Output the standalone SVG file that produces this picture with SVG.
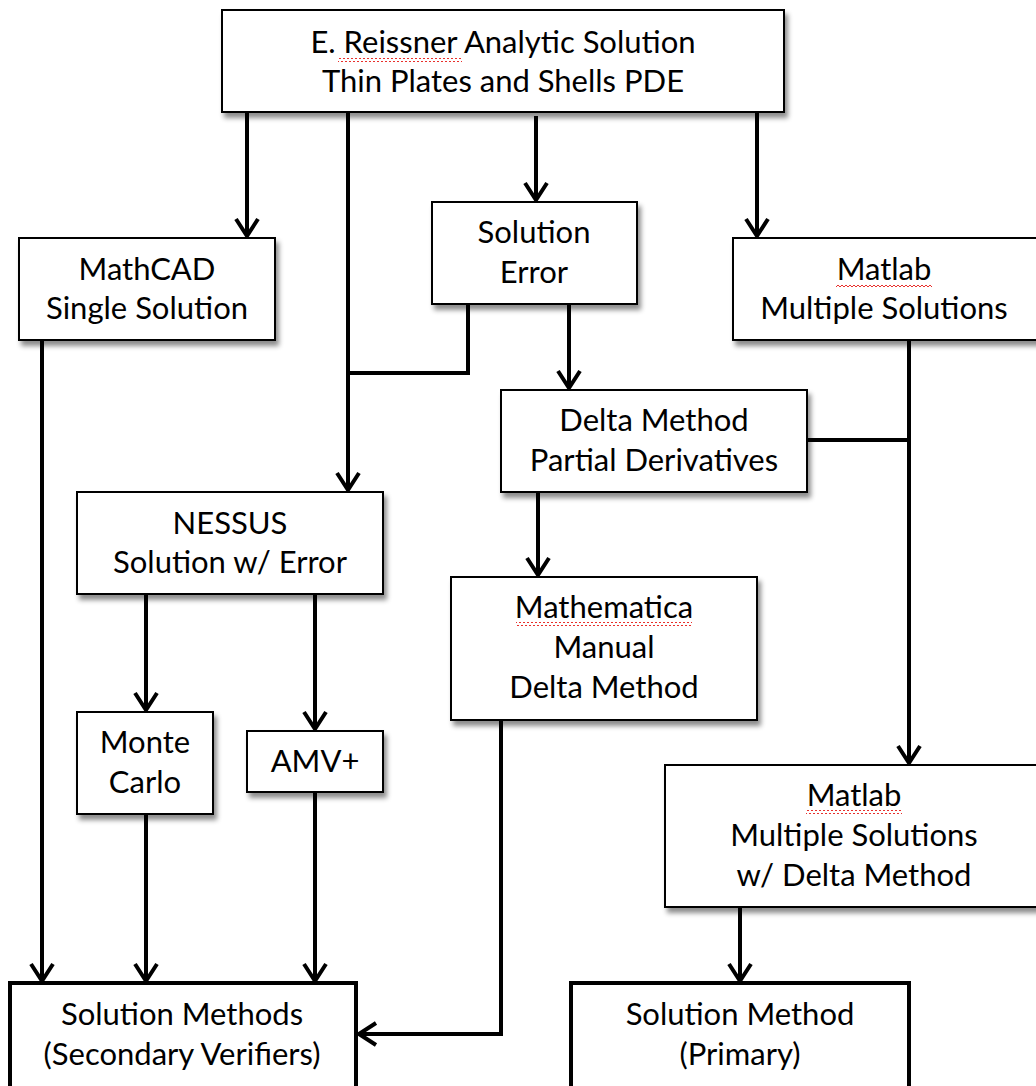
<svg xmlns="http://www.w3.org/2000/svg" width="1036" height="1086" viewBox="0 0 1036 1086">
<defs>
<filter id="sh" x="-10%" y="-10%" width="130%" height="140%">
<feDropShadow dx="3" dy="5" stdDeviation="2.5" flood-color="#000" flood-opacity="0.45"/>
</filter>
<marker id="ar" viewBox="0 0 22 26" markerWidth="22" markerHeight="26" refX="19" refY="13" orient="auto" markerUnits="userSpaceOnUse">
<path d="M2,2 L19,13 L2,24" fill="none" stroke="#000" stroke-width="4"/>
</marker>
<pattern id="sq" x="0" y="0" width="4" height="4" patternUnits="userSpaceOnUse">
<path d="M0,3 L2,1 L4,3" fill="none" stroke="#e8302c" stroke-width="1"/>
</pattern>
</defs>
<style>
.b{fill:#fff;stroke:#000;stroke-width:2;filter:url(#sh)}
.bt{fill:#fff;stroke:#000;stroke-width:4}
.t{font-family:Lato,"Open Sans",sans-serif;font-size:31px;fill:#000;text-anchor:middle}
.c{fill:none;stroke:#000;stroke-width:4}
.s{fill:url(#sq)}
</style>
<rect width="1036" height="1086" fill="#fff"/>
<g id="connectors">
<line class="c" x1="247" y1="112" x2="247" y2="236" marker-end="url(#ar)"/>
<line class="c" x1="348" y1="112" x2="348" y2="490" marker-end="url(#ar)"/>
<line class="c" x1="536" y1="116" x2="536" y2="200" marker-end="url(#ar)"/>
<line class="c" x1="757" y1="112" x2="757" y2="236" marker-end="url(#ar)"/>
<polyline class="c" points="468,304 468,373 348,373"/>
<line class="c" x1="569" y1="304" x2="569" y2="388" marker-end="url(#ar)"/>
<line class="c" x1="909" y1="340" x2="909" y2="763" marker-end="url(#ar)"/>
<line class="c" x1="807" y1="440" x2="909" y2="440"/>
<line class="c" x1="538" y1="492" x2="538" y2="575" marker-end="url(#ar)"/>
<line class="c" x1="146" y1="594" x2="146" y2="710" marker-end="url(#ar)"/>
<line class="c" x1="315" y1="594" x2="315" y2="729" marker-end="url(#ar)"/>
<line class="c" x1="42" y1="340" x2="42" y2="981" marker-end="url(#ar)"/>
<line class="c" x1="146" y1="814" x2="146" y2="981" marker-end="url(#ar)"/>
<line class="c" x1="315" y1="792" x2="315" y2="981" marker-end="url(#ar)"/>
<polyline class="c" points="501,720 501,1034 359,1034" marker-end="url(#ar)"/>
<line class="c" x1="740" y1="907" x2="740" y2="981" marker-end="url(#ar)"/>
</g>
<g id="top"><rect class="b" x="222" y="10" width="562" height="102"/>
<text class="t" x="503" y="53">E. Reissner Analytic Solution</text>
<text class="t" x="503" y="92">Thin Plates and Shells PDE</text>
<rect class="s" x="338" y="58" width="124" height="4"/></g>
<g id="mathcad"><rect class="b" x="19" y="238" width="256" height="102"/>
<text class="t" x="147" y="280">MathCAD</text>
<text class="t" x="147" y="319">Single Solution</text></g>
<g id="solerr"><rect class="b" x="432" y="202" width="205" height="102"/>
<text class="t" x="534" y="243">Solution</text>
<text class="t" x="534" y="283">Error</text></g>
<g id="matlab"><rect class="b" x="733" y="238" width="310" height="102"/>
<text class="t" x="884" y="280">Matlab</text>
<text class="t" x="884" y="319">Multiple Solutions</text>
<rect class="s" x="836" y="284" width="96" height="4"/></g>
<g id="delta"><rect class="b" x="501" y="390" width="306" height="102"/>
<text class="t" x="654" y="431">Delta Method</text>
<text class="t" x="654" y="471">Partial Derivatives</text></g>
<g id="nessus"><rect class="b" x="77" y="492" width="306" height="102"/>
<text class="t" x="230" y="534">NESSUS</text>
<text class="t" x="230" y="573">Solution w/ Error</text></g>
<g id="mathematica"><rect class="b" x="451" y="577" width="306" height="143"/>
<text class="t" x="604" y="618">Mathematica</text>
<text class="t" x="604" y="658">Manual</text>
<text class="t" x="604" y="698">Delta Method</text>
<rect class="s" x="516" y="622" width="176" height="4"/></g>
<g id="montecarlo"><rect class="b" x="77" y="712" width="136" height="102"/>
<text class="t" x="145" y="753">Monte</text>
<text class="t" x="145" y="793">Carlo</text></g>
<g id="amv"><rect class="b" x="247" y="731" width="136" height="61"/>
<text class="t" x="315" y="772">AMV+</text></g>
<g id="matlabdelta"><rect class="b" x="665" y="765" width="378" height="142"/>
<text class="t" x="854" y="806">Matlab</text>
<text class="t" x="854" y="846">Multiple Solutions</text>
<text class="t" x="854" y="886">w/ Delta Method</text>
<rect class="s" x="806" y="810" width="96" height="4"/></g>
<g id="secondary"><rect class="bt" x="10" y="983" width="346" height="106"/>
<text class="t" x="182" y="1025">Solution Methods</text>
<text class="t" x="182" y="1065">(Secondary Verifiers)</text></g>
<g id="primary"><rect class="bt" x="571" y="983" width="338" height="106"/>
<text class="t" x="740" y="1025">Solution Method</text>
<text class="t" x="740" y="1065">(Primary)</text></g>
</svg>
